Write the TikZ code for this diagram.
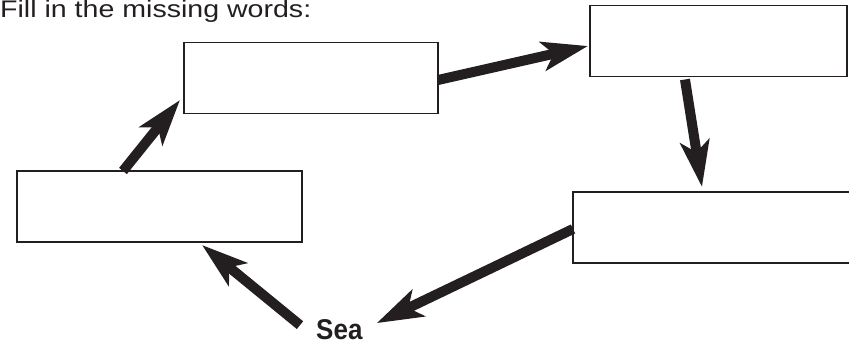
\documentclass[tikz,border=0pt]{standalone}
\usepackage{fontspec}
\setmainfont{Liberation Sans}
\usetikzlibrary{positioning, calc}
\usetikzlibrary{arrows.meta}
\definecolor{myink}{HTML}{231F20}
\tikzset{ % box and arrow styles
  word box/.style={draw=myink,line width=1.8pt,inner sep=0,outer sep=0,
    minimum height=71pt},
  big arrow/.style={draw=myink,line width=10pt,
    -{Stealth[length=46pt,width=29pt,inset=11pt]}},
  my text/.style={text=myink,inner sep=0}
}

\begin{document}
\begin{tikzpicture}[x=1pt,y=-1pt]
\useasboundingbox (0,0) rectangle (849,345);

\node[my text,anchor=base west,font=\fontsize{24}{28}\selectfont]
  (title) at (0,17.3) {\scalebox{1.19}[1]{Fill in the missing words:}};

% boxes
\node[word box,minimum width=254pt] (a) at (311,78)    {};
\node[word box,minimum width=257pt] (b) at (718.5,41)  {};
\node[word box,minimum width=300pt] (c) at (723,227.5) {};
\node[word box,minimum width=285pt] (d) at (159.5,206.5) {};

\node[my text,anchor=base west,font=\bfseries\fontsize{26}{30}\selectfont]
  (sea) at (316,339) {\scalebox{1}[1.1]{Sea}};

% arrows
\draw[big arrow] ([xshift=-36.5pt]d.north) -- ([xshift=-4pt,yshift=-22pt]a.west);
\draw[big arrow] ([yshift=-2pt]a.east) -- ([xshift=-2pt,yshift=-5pt]b.west);
\draw[big arrow] ([xshift=-33.5pt,yshift=-3pt]b.south) -- ([xshift=-21pt,yshift=5pt]c.north);
\draw[big arrow] ([yshift=-1.5pt]c.west) -- ([xshift=14pt,yshift=6pt]sea.east);
\draw[big arrow] ([xshift=-16pt,yshift=4pt]sea.west) -- ([xshift=42.5pt,yshift=-3pt]d.south);
\end{tikzpicture}
\end{document}
